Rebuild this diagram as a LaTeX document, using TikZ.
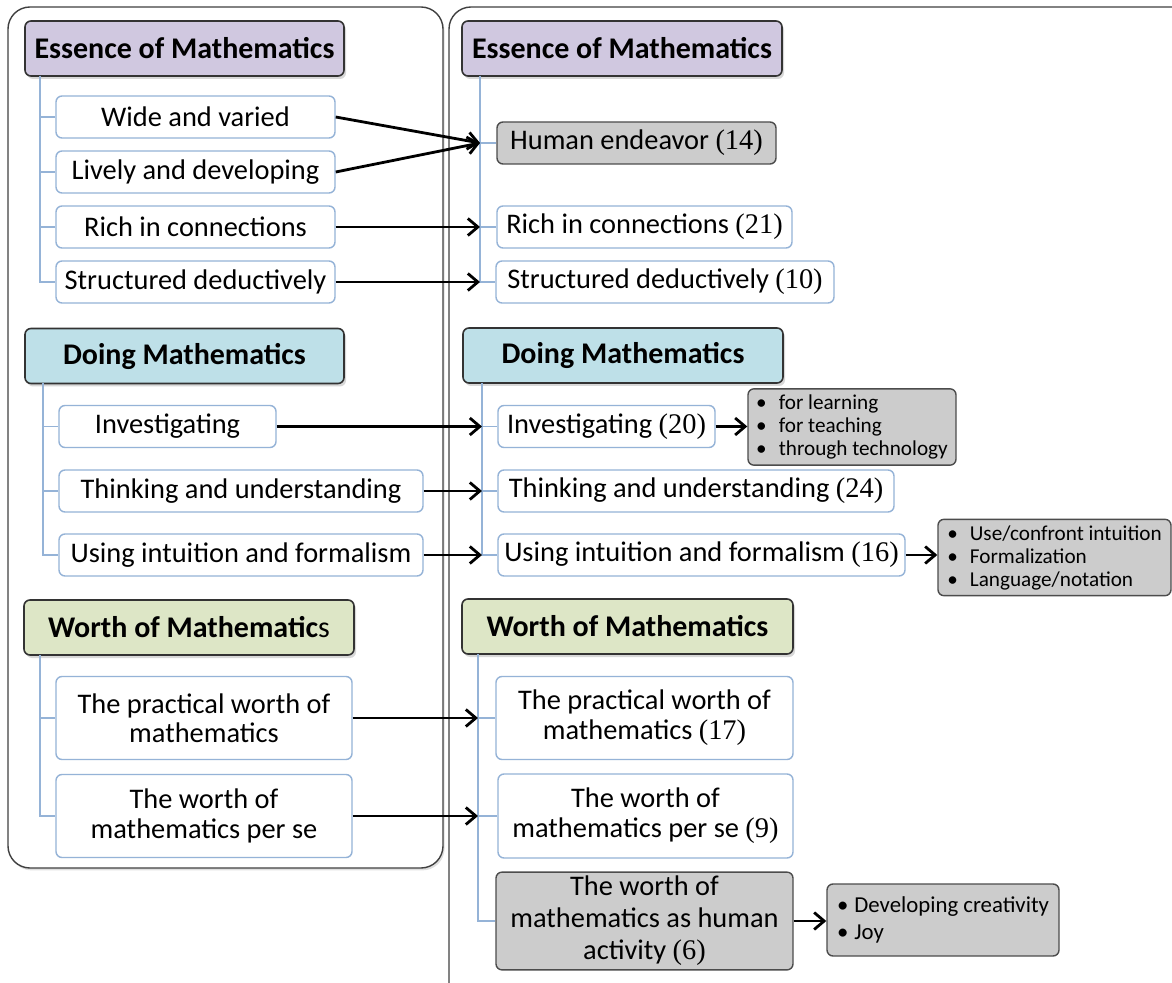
\documentclass[tikz,border=0pt]{standalone}
\usepackage{fontspec}
\setmainfont{Carlito}
\newfontfamily\numfont{Liberation Serif}
\usepackage{tikz}
\usetikzlibrary{arrows.meta,shadows}
\definecolor{hdpurple}{RGB}{208,200,224}
\definecolor{hdblue}{RGB}{190,224,232}
\definecolor{hdgreen}{RGB}{221,230,198}
\definecolor{itborder}{RGB}{149,179,215}
\definecolor{grfill}{RGB}{204,204,204}
\newcommand{\cnt}[1]{{\numfont(#1)}}

\begin{document}
\begin{tikzpicture}[x=0.5pt,y=-0.5pt]
    \tikzset{pnl/.style={draw=black!75,line width=0.7pt,rounded corners=11pt,fill=white,drop shadow={shadow xshift=0.8pt,shadow yshift=-1.2pt,opacity=0.25}},
      hd/.style={draw=black!80,line width=0.8pt,rounded corners=3pt,minimum height=27.5pt,inner sep=2pt,font=\fontsize{15}{17}\selectfont\bfseries,drop shadow={shadow xshift=1pt,shadow yshift=-1.5pt,opacity=0.3}},
      it/.style={draw=itborder,line width=0.7pt,fill=white,rounded corners=3pt,minimum height=21pt,inner sep=2pt,align=center,font=\fontsize{14.2}{14.6}\selectfont},
      gr/.style={it,draw=black!70,fill=grfill},
      bl/.style={draw=black!70,line width=0.7pt,fill=grfill,rounded corners=3pt,align=left,inner sep=3pt,font=\fontsize{10.6}{11.5}\selectfont},
      tr/.style={draw=itborder,line width=0.6pt},
      ar/.style={line width=1.4pt,-{Straight Barb[length=5pt,width=8.5pt]}}}
    \useasboundingbox (0,0) rectangle (1172,983);
    % panels
    \draw[pnl] (8,7) rectangle (443,868);
    \begin{scope}
      \clip (0,0) rectangle (1172,983);
      \draw[pnl] (449,7) rectangle (1230,1040);
    \end{scope}
    % left panel
    \node[hd,fill=hdpurple,minimum width=159.5pt] (ha) at (184.5,48.5) {Essence of Mathematics};
    \foreach \t [count=\i] in {Wide and varied,Lively and developing,Rich in connections,Structured deductively}
      \node[it,minimum width=139.5pt] (a\i) at (195.5,{62+55*\i}) {\t};
    \node[hd,fill=hdblue,minimum width=159.5pt] (hb) at (184.5,356) {Doing Mathematics};
    \node[it,minimum width=108.5pt] (b1) at (167.5,426.5) {Investigating};
    \node[it,minimum width=182pt] (b2) at (241,491) {Thinking and understanding};
    \node[it,minimum width=182pt] (b3) at (241,555) {Using intuition and formalism};
    \node[hd,fill=hdgreen,minimum width=165pt] (hc) at (189,627.5) {Worth of Mathematic{\mdseries s}};
    \node[it,minimum width=148pt,minimum height=41.5pt] (c1) at (204,718) {The practical worth of\\mathematics};
    \node[it,minimum width=148pt,minimum height=41.5pt] (c2) at (204,816) {The worth of\\mathematics per se};
    % right panel
    \node[hd,fill=hdpurple,minimum width=160pt] (hd) at (622,48.5) {Essence of Mathematics};
    \node[gr,minimum width=139.5pt] (d1) at (636.5,143) {Human endeavor \cnt{14}};
    \node[it,minimum width=147.5pt] (d2) at (644.5,227) {Rich in connections \cnt{21}};
    \node[it,minimum width=169pt] (d3) at (665,282) {Structured deductively \cnt{10}};
    \node[hd,fill=hdblue,minimum width=160pt] (he) at (623,355.5) {Doing Mathematics};
    \node[it,minimum width=108.5pt] (e1) at (606.5,426.5) {Investigating \cnt{20}};
    \node[it,minimum width=198pt] (e2) at (696,491) {Thinking and understanding \cnt{24}};
    \node[it,minimum width=203.5pt] (e3) at (701.5,555) {Using intuition and formalism \cnt{16}};
    \node[bl,minimum width=104pt,minimum height=36pt] (f1) at (852,427) {\textbullet\hspace{6pt}for learning\\\textbullet\hspace{6pt}for teaching\\\textbullet\hspace{6pt}through technology};
    \node[bl,minimum width=116.5pt,minimum height=37.5pt] (f2) at (1054.5,557.5) {\textbullet\hspace{6pt}Use/confront intuition\\\textbullet\hspace{6pt}Formalization\\\textbullet\hspace{6pt}Language/notation};
    \node[hd,fill=hdgreen,minimum width=165.5pt] (hf) at (627.5,626.5) {Worth of Mathematics};
    \node[it,minimum width=148.5pt,minimum height=41.5pt,font=\fontsize{14.2}{15}\selectfont] (g1) at (644.5,718) {The practical worth of\\mathematics \cnt{17}};
    \node[it,minimum width=147.5pt,minimum height=42pt,font=\fontsize{14.2}{15}\selectfont] (g2) at (645.5,816) {The worth of\\mathematics per se \cnt{9}};
    \node[gr,minimum width=148.5pt,minimum height=48pt,font=\fontsize{14.2}{16}\selectfont] (g3) at (644.5,921) {The worth of\\mathematics as human\\activity \cnt{6}};
    \node[bl,minimum width=116pt,minimum height=36pt,font=\fontsize{11.4}{13.5}\selectfont] (f3) at (943,920) {\textbullet\hspace{3pt}Developing creativity\\\textbullet\hspace{3pt}Joy};
    % tree lines
    \coordinate (tA) at (40,76); \coordinate (tB) at (43,383); \coordinate (tC) at (40,655);
    \coordinate (tD) at (480,76); \coordinate (tE) at (482,383); \coordinate (tF) at (478,654);
    \foreach \k in {a1,a2,a3,a4} \draw[tr] (tA) |- (\k.west);
    \foreach \k in {b1,b2,b3} \draw[tr] (tB) |- (\k.west);
    \foreach \k in {c1,c2} \draw[tr] (tC) |- (\k.west);
    \foreach \k in {d1,d2,d3} \draw[tr] (tD) |- (\k.west);
    \foreach \k in {e1,e2,e3} \draw[tr] (tE) |- (\k.west);
    \foreach \k in {g1,g2,g3} \draw[tr] (tF) |- (\k.west);
    % arrows
    \draw[ar] (a1.east) -- (d1.west -| tD);
    \draw[ar] (a2.east) -- (d1.west -| tD);
    \draw[ar] (a3.east) -- (d2.west -| tD);
    \draw[ar] (a4.east) -- (d3.west -| tD);
    \draw[ar] (b1.east) -- (e1.west -| tE);
    \draw[ar] (b2.east) -- (e2.west -| tE);
    \draw[ar] (b3.east) -- (e3.west -| tE);
    \draw[ar] (c1.east) -- (g1.west -| tF);
    \draw[ar] (c2.east) -- (g2.west -| tF);
    \draw[ar] (e1.east) -- (e1.east -| f1.west);
    \draw[ar] (e3.east) -- (e3.east -| f2.west);
    \draw[ar] (g3.east) -- (g3.east -| f3.west);
\end{tikzpicture}
\end{document}
